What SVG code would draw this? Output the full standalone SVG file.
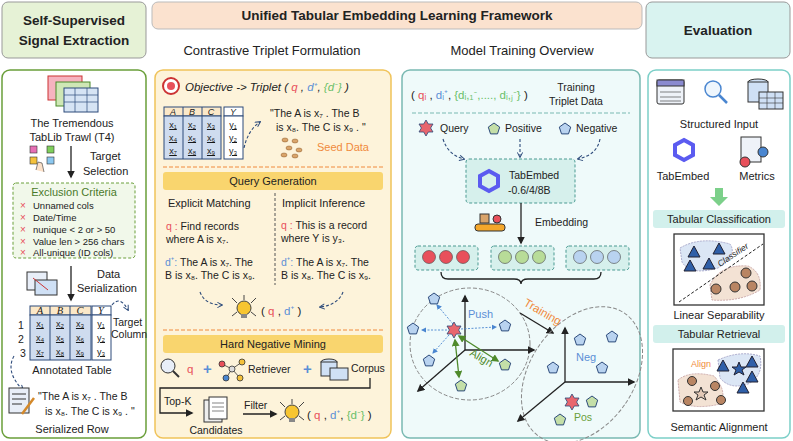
<svg xmlns="http://www.w3.org/2000/svg" xmlns:xlink="http://www.w3.org/1999/xlink" width="793" height="441" viewBox="0 0 793 441">
<style>
text{font-family:"Liberation Sans",Lato,sans-serif;fill:#222;font-size:10.5px}
.h{font-weight:bold;font-size:13.5px}
.c{text-anchor:middle}
.sub{font-size:13px}
.red{fill:#e8505b}.blue{fill:#5b8fd6}.grn{fill:#6abf69}.org{fill:#f08a3c}
.ln{stroke:#222;stroke-width:1.3;fill:none}
.dash{stroke:#2c4a7a;stroke-width:1.1;fill:none;stroke-dasharray:3 2}
.tbl{fill:#cfdcef;stroke:#2c4a7a;stroke-width:1}
.pb{fill:#b9d3f0;stroke:#2c4a7a;stroke-width:1}
.pg{fill:#c4dfa8;stroke:#2c4a7a;stroke-width:1}
.st{fill:#e8666e;stroke:#2c4a7a;stroke-width:0.8}
.bar{fill:#f9d56e}
.cbar{fill:#d2f0ec}
.x{fill:#e8505b;font-size:10px}
</style>
<defs>
<marker id="ar" viewBox="0 0 10 10" refX="8" refY="5" markerWidth="6" markerHeight="6" orient="auto"><path d="M0,0 L10,5 L0,10 z" fill="#222"/></marker>
<marker id="ad" viewBox="0 0 10 10" refX="8" refY="5" markerWidth="6" markerHeight="6" orient="auto"><path d="M1,1 L9,5 L1,9" fill="none" stroke="#2c4a7a" stroke-width="1.5"/></marker>
<marker id="ab" viewBox="0 0 10 10" refX="8" refY="5" markerWidth="6" markerHeight="6" orient="auto"><path d="M0,0 L10,5 L0,10 z" fill="#4a86d0"/></marker>
<marker id="ag" viewBox="0 0 10 10" refX="8" refY="5" markerWidth="6" markerHeight="6" orient="auto-start-reverse"><path d="M0,0 L10,5 L0,10 z" fill="#4f8a2b"/></marker>
<path id="pent" d="M0,-6 L5.7,-1.9 L3.5,4.9 L-3.5,4.9 L-5.7,-1.9 z"/>
<path id="star" d="M0,-8 L2.3,-4 L7,-4 L4.6,0 L7,4 L2.3,4 L0,8 L-2.3,4 L-7,4 L-4.6,0 L-7,-4 L-2.3,-4 z"/>
<path id="tri" d="M0,-6 L6,5 L-6,5 z"/>
<g id="bulb"><circle cx="0" cy="0" r="7" fill="#f7c531" stroke="#444"/><rect x="-3" y="6" width="6" height="4" fill="#888"/><path d="M-12,-10 L-7,-5 M12,-10 L7,-5 M-12,8 L-7,4 M12,8 L7,4 M0,-13 L0,-8" stroke="#444"/></g>
</defs>

<g id="headers">
<rect x="2" y="2" width="144" height="56" rx="6" fill="#e6f2d6" stroke="#999"/>
<text class="h c" x="74" y="25">Self-Supervised</text>
<text class="h c" x="74" y="45">Signal Extraction</text>
<rect x="152" y="2" width="490" height="27" rx="6" fill="#fbe2cf" stroke="#bbb"/>
<text class="h c" x="397" y="20">Unified Tabular Embedding Learning Framework</text>
<text class="sub c" x="272" y="55">Contrastive Triplet Formulation</text>
<text class="sub c" x="522" y="55">Model Training Overview</text>
<rect x="646" y="2" width="144" height="56" rx="6" fill="#d9f3f0" stroke="#999"/>
<text class="h c" x="718" y="35">Evaluation</text>
</g>

<rect x="2" y="70" width="144" height="368" rx="8" fill="#fff" stroke="#6a9f3a" stroke-width="1.5"/>
<rect x="155" y="70" width="236" height="368" rx="8" fill="#fdf3da" stroke="#f0c35a" stroke-width="1.5"/>
<rect x="402" y="70" width="238" height="368" rx="8" fill="#effafa" stroke="#79b9b2" stroke-width="1.5"/>
<rect x="648" y="70" width="142" height="368" rx="8" fill="#fff" stroke="#7ccfc8" stroke-width="1.5"/>

<g id="col1">
<rect x="48" y="76" width="34" height="24" fill="#f6b3c0" stroke="#c33"/>
<rect x="56" y="82" width="34" height="24" fill="#cfe7b5" stroke="#4a8a2a"/>
<rect x="64" y="88" width="34" height="24" fill="#d6e4f4" stroke="#2c4a7a"/>
<path d="M64,95 H98 M64,102 H98 M75,88 V112 M87,88 V112" stroke="#2c4a7a" stroke-width="0.7"/>
<text class="c" x="72" y="127" style="font-size:11px">The Tremendous</text>
<text class="c" x="72" y="141" style="font-size:11px">TabLib Trawl (T4)</text>
<rect x="30" y="146" width="7" height="7" fill="#e66fb4" stroke="#333" stroke-width="0.6"/>
<rect x="47" y="146" width="7" height="7" fill="#7fcf5c" stroke="#333" stroke-width="0.6"/>
<rect x="30" y="157" width="7" height="7" fill="#f4c13b" stroke="#333" stroke-width="0.6"/>
<rect x="47" y="157" width="7" height="7" fill="#8cc8f0" stroke="#333" stroke-width="0.6"/>
<path d="M36,170 L38,162 L42,163 L44,172" fill="#fbe0c8" stroke="#333" stroke-width="0.6"/>
<line class="ln" x1="71" y1="146" x2="71" y2="177" marker-end="url(#ar)"/>
<text x="90" y="160" style="font-size:11px">Target</text>
<text x="83" y="175" style="font-size:11px">Selection</text>
<rect x="13" y="183" width="122" height="75" rx="3" fill="#f1f8ea" stroke="#6a9f3a" stroke-dasharray="3 2"/>
<text class="c" x="74" y="196" style="fill:#4a7a2a;font-size:11px">Exclusion Criteria</text>
<text x="20" y="209" class="x">×</text><text x="33" y="209" style="font-size:9.5px">Unnamed cols</text>
<text x="20" y="221" class="x">×</text><text x="33" y="221" style="font-size:9.5px">Date/Time</text>
<text x="20" y="233" class="x">×</text><text x="33" y="233" style="font-size:9.5px">nunique &lt; 2 or &gt; 50</text>
<text x="20" y="245" class="x">×</text><text x="33" y="245" style="font-size:9.5px">Value len &gt; 256 chars</text>
<text x="20" y="256" class="x">×</text><text x="33" y="256" style="font-size:9.5px">All-unique (ID cols)</text>
<rect x="27" y="272" width="20" height="18" fill="#e8eef8" stroke="#333"/>
<rect x="35" y="280" width="22" height="15" fill="#cfe0f5" stroke="#333"/>
<line x1="33" y1="278" x2="48" y2="290" stroke="#c33"/>
<line class="ln" x1="71" y1="266" x2="71" y2="300" marker-end="url(#ar)"/>
<text x="97" y="278" style="font-size:11px">Data</text>
<text x="77" y="292" style="font-size:11px">Serialization</text>
<rect x="30" y="306" width="61" height="9" fill="#fbe8c8" stroke="#2c4a7a"/>
<rect x="30" y="315" width="61" height="45" class="tbl"/>
<rect x="92" y="306" width="19" height="9" fill="#fff" stroke="#2c4a7a"/>
<rect x="92" y="315" width="19" height="45" fill="#fff" stroke="#2c4a7a"/>
<path d="M50,306 V360 M70,306 V360" stroke="#2c4a7a"/>
<g style="font-size:9px">
<text class="c" x="40" y="314" style="font-family:'Liberation Serif';font-style:italic">A</text><text class="c" x="60" y="314" style="font-family:'Liberation Serif';font-style:italic">B</text><text class="c" x="80" y="314" style="font-family:'Liberation Serif';font-style:italic">C</text><text class="c" x="101" y="314" style="font-family:'Liberation Serif';font-style:italic">Y</text>
</g>
<g text-decoration="underline">
<text class="c" x="40" y="327" style="font-size:9px">x₁</text><text class="c" x="60" y="327" style="font-size:9px">x₂</text><text class="c" x="80" y="327" style="font-size:9px">x₃</text><text class="c" x="101" y="327" style="font-size:9px">y₁</text>
<text class="c" x="40" y="341" style="font-size:9px">x₄</text><text class="c" x="60" y="341" style="font-size:9px">x₅</text><text class="c" x="80" y="341" style="font-size:9px">x₆</text><text class="c" x="101" y="341" style="font-size:9px">y₂</text>
<text class="c" x="40" y="355" style="font-size:9px">x₇</text><text class="c" x="60" y="355" style="font-size:9px">x₈</text><text class="c" x="80" y="355" style="font-size:9px">x₉</text><text class="c" x="101" y="355" style="font-size:9px">y₃</text>
</g>
<text x="18" y="329">1</text><text x="18" y="343">2</text><text x="20" y="357">3</text>
<text x="113" y="326">Target</text><text x="111" y="338">Column</text>
<path class="dash" d="M112,305 Q120,295 128,310" marker-end="url(#ad)"/>
<text class="c" x="72" y="374" style="font-size:11px">Annotated Table</text>
<path class="dash" d="M14,356 Q5,372 23,390" marker-end="url(#ad)"/>
<rect x="9" y="388" width="20" height="25" fill="#e8eef8" stroke="#333"/>
<path d="M12,394 H26 M12,399 H26 M12,404 H22" stroke="#333"/>
<line x1="22" y1="414" x2="34" y2="398" stroke="#d4892a" stroke-width="2.5"/>
<text x="38" y="400">"The A is x₇ . The B</text>
<text x="45" y="415">is x₈. The C is x₉ . "</text>
<text class="c" x="72" y="433" style="font-size:11px">Serialized Row</text>
</g>

<g id="col2">
<circle cx="171" cy="86" r="8" fill="#fff" stroke="#c33" stroke-width="2"/><circle cx="171" cy="86" r="4" fill="#e8505b"/>
<text x="185" y="91" style="font-style:italic;font-size:11.5px">Objective -&gt; Triplet ( <tspan class="red">q</tspan> , <tspan class="blue">d⁺</tspan>, <tspan class="grn">{d⁻}</tspan> )</text>
<rect x="164" y="107" width="57" height="9" fill="#fbe8c8" stroke="#2c4a7a"/>
<rect x="164" y="116" width="57" height="43" class="tbl"/>
<rect x="224" y="107" width="19" height="9" fill="#fff" stroke="#2c4a7a"/>
<rect x="224" y="116" width="19" height="43" fill="#fff" stroke="#2c4a7a"/>
<path d="M183,107 V159 M202,107 V159" stroke="#2c4a7a"/>
<text class="c" x="173" y="115" style="font-style:italic;font-size:9px">A</text><text class="c" x="192" y="115" style="font-style:italic;font-size:9px">B</text><text class="c" x="211" y="115" style="font-style:italic;font-size:9px">C</text><text class="c" x="233" y="115" style="font-style:italic;font-size:9px">Y</text>
<g text-decoration="underline">
<text class="c" x="173" y="128" style="font-size:9px">x₁</text><text class="c" x="192" y="128" style="font-size:9px">x₂</text><text class="c" x="211" y="128" style="font-size:9px">x₃</text><text class="c" x="233" y="128" style="font-size:9px">y₁</text>
<text class="c" x="173" y="141" style="font-size:9px">x₄</text><text class="c" x="192" y="141" style="font-size:9px">x₅</text><text class="c" x="211" y="141" style="font-size:9px">x₆</text><text class="c" x="233" y="141" style="font-size:9px">y₂</text>
<text class="c" x="173" y="154" style="font-size:9px">x₇</text><text class="c" x="192" y="154" style="font-size:9px">x₈</text><text class="c" x="211" y="154" style="font-size:9px">x₉</text><text class="c" x="233" y="154" style="font-size:9px">y₃</text>
</g>
<path class="dash" d="M244,148 Q248,130 260,122" marker-end="url(#ad)"/>
<text x="270" y="117">"The A is x₇ . The B</text>
<text x="276" y="131">is x₈. The C is x₉ .  "</text>
<g fill="#d9a46a" stroke="#8a5a2a" stroke-width="0.5"><ellipse cx="285" cy="140" rx="3" ry="2"/><ellipse cx="295" cy="141" rx="3" ry="2"/><ellipse cx="289" cy="148" rx="3" ry="2"/><ellipse cx="299" cy="150" rx="3" ry="2"/><ellipse cx="284" cy="155" rx="3" ry="2"/><ellipse cx="295" cy="156" rx="3" ry="2"/></g>
<text x="317" y="151" class="org" style="font-size:11px">Seed Data</text>
<line x1="163" y1="167" x2="383" y2="167" stroke="#f08a3c" stroke-dasharray="4 2"/>
<rect x="163" y="172" width="220" height="18" rx="3" class="bar"/>
<text class="c" x="273" y="185" style="font-size:11px">Query Generation</text>
<text x="168" y="207" style="font-size:11px">Explicit Matching</text>
<text x="282" y="207" style="font-size:11px">Implicit Inference</text>
<line x1="275" y1="193" x2="275" y2="285" stroke="#555" stroke-dasharray="3 2"/>
<text x="166" y="230"><tspan class="red">q  :</tspan>  Find records</text>
<text x="166" y="243">where A is x₇.</text>
<text x="281" y="229"><tspan class="red">q  :</tspan>  This is a record</text>
<text x="281" y="242">where Y is y₃.</text>
<text x="165" y="266"><tspan class="blue">d⁺:</tspan> The A is x₇. The</text>
<text x="165" y="279">B is x₈. The C is x₉.</text>
<text x="281" y="266"><tspan class="blue">d⁺:</tspan> The A is x₇. The</text>
<text x="281" y="279">B is x₈. The C is x₉.</text>
<path class="dash" d="M200,292 Q205,305 222,305" marker-end="url(#ad)"/>
<path class="dash" d="M343,292 Q338,305 320,307" marker-end="url(#ad)"/>
<use href="#bulb" x="244" y="308"/>
<text x="261" y="315" style="font-size:11.5px">( <tspan class="red">q</tspan> , <tspan class="blue">d⁺</tspan> )</text>
<line x1="163" y1="330" x2="383" y2="330" stroke="#f08a3c" stroke-dasharray="4 2"/>
<rect x="163" y="335" width="220" height="18" rx="3" class="bar"/>
<text class="c" x="273" y="348" style="font-size:11px">Hard Negative Mining</text>
<circle cx="168" cy="366" r="7" fill="#e8eef8" stroke="#333"/><line x1="173" y1="371" x2="179" y2="377" stroke="#333" stroke-width="2"/>
<text x="187" y="373" class="red" style="font-size:11.5px">q</text>
<text x="203" y="374" style="fill:#5b8fd6;font-size:15px;font-weight:bold">+</text>
<g stroke="#333" stroke-width="0.8"><path d="M222,364 L232,369 L242,362 M232,369 L226,378 M232,369 L240,378" fill="none"/><circle cx="222" cy="364" r="3" fill="#e8505b"/><circle cx="242" cy="362" r="3" fill="#f4c13b"/><circle cx="226" cy="378" r="3" fill="#4a86d0"/><circle cx="240" cy="378" r="3" fill="#f4c13b"/><circle cx="232" cy="369" r="3" fill="#ddd"/></g>
<text x="248" y="373">Retriever</text>
<text x="303" y="374" style="fill:#5b8fd6;font-size:15px;font-weight:bold">+</text>
<ellipse cx="329" cy="362" rx="8" ry="3" fill="#cfe0f5" stroke="#333"/>
<rect x="321" y="362" width="16" height="14" fill="#cfe0f5" stroke="#333"/>
<rect x="330" y="368" width="18" height="12" fill="#cfe0f5" stroke="#333"/>
<text x="351" y="372">Corpus</text>
<path class="ln" d="M370,378 V388 H160 V413 H192" marker-end="url(#ar)"/>
<text x="164" y="405">Top-K</text>
<rect x="204" y="400" width="18" height="22" fill="#eee" stroke="#333"/>
<rect x="209" y="397" width="18" height="22" fill="#fff" stroke="#333"/>
<path d="M212,403 H224 M212,407 H224 M212,411 H224" stroke="#333" stroke-width="0.6"/>
<text class="c" x="216" y="434">Candidates</text>
<text x="244" y="409">Filter</text>
<line class="ln" x1="243" y1="414" x2="276" y2="414" marker-end="url(#ar)"/>
<use href="#bulb" x="292" y="412"/>
<text x="307" y="419" style="font-size:11.5px">( <tspan class="red">q</tspan> , <tspan class="blue">d⁺</tspan>, <tspan class="grn">{d⁻}</tspan> )</text>
</g>

<g id="col3">
<text x="411" y="99" style="font-size:11.5px">( <tspan class="red">qᵢ</tspan> , <tspan class="blue">dᵢ⁺</tspan>, <tspan class="grn">{dᵢ,₁⁻,...., dᵢ,ⱼ⁻}</tspan> )</text>
<text class="c" x="576" y="91">Training</text>
<text class="c" x="576" y="105">Triplet Data</text>
<line x1="412" y1="113" x2="630" y2="113" stroke="#79b9b2" stroke-dasharray="4 2"/>
<use href="#star" x="426" y="128" class="st"/>
<text x="440" y="132">Query</text>
<use href="#pent" x="494" y="129" class="pg"/>
<text x="505" y="132">Positive</text>
<use href="#pent" x="565" y="129" class="pb"/>
<text x="576" y="132">Negative</text>
<path class="dash" d="M443,139 Q448,155 464,159" marker-end="url(#ad)"/>
<path class="dash" d="M520,139 V157" marker-end="url(#ad)"/>
<path class="dash" d="M600,139 Q597,155 578,159" marker-end="url(#ad)"/>
<rect x="466" y="159" width="109" height="44" rx="3" fill="#d6f0ec" stroke="#4a9a92" stroke-dasharray="3 2"/>
<path d="M489,171 L498,176 L498,186 L489,191 L480,186 L480,176 z" fill="none" stroke="#5b5bf0" stroke-width="4"/>
<text x="509" y="179">TabEmbed</text>
<text x="508" y="194">-0.6/4/8B</text>
<line class="ln" x1="521" y1="203" x2="521" y2="243" marker-end="url(#ar)"/>
<rect x="475" y="224" width="30" height="7" rx="3" fill="#f4a72b" stroke="#333"/>
<rect x="480" y="214" width="9" height="9" fill="#d9a46a" stroke="#333"/>
<circle cx="497" cy="219" r="4" fill="#e8505b" stroke="#333"/>
<text x="535" y="226">Embedding</text>
<rect x="415" y="246" width="63" height="24" rx="3" fill="#d6f0ec" stroke="#4a9a92" stroke-dasharray="3 2"/>
<rect x="491" y="246" width="63" height="24" rx="3" fill="#d6f0ec" stroke="#4a9a92" stroke-dasharray="3 2"/>
<rect x="566" y="246" width="63" height="24" rx="3" fill="#d6f0ec" stroke="#4a9a92" stroke-dasharray="3 2"/>
<g stroke="#444" stroke-width="0.6">
<circle cx="429" cy="257" r="6.5" fill="#e8505b"/><circle cx="446" cy="257" r="6.5" fill="#e8505b"/><circle cx="463" cy="257" r="6.5" fill="#e8505b"/>
<circle cx="505" cy="257" r="6.5" fill="#b8dc98"/><circle cx="522" cy="257" r="6.5" fill="#b8dc98"/><circle cx="539" cy="257" r="6.5" fill="#b8dc98"/>
<circle cx="580" cy="257" r="6.5" fill="#b9d3f0"/><circle cx="597" cy="257" r="6.5" fill="#b9d3f0"/><circle cx="614" cy="257" r="6.5" fill="#b9d3f0"/>
</g>
<path class="ln" d="M441,272 Q441,279 448,279 H514 Q521,279 521,284 Q521,279 528,279 H594 Q601,279 601,272"/>
<ellipse cx="470" cy="344" rx="60" ry="56" fill="none" stroke="#888" stroke-dasharray="4 2"/>
<line class="ln" x1="465" y1="350" x2="465" y2="296" marker-end="url(#ar)"/>
<line class="ln" x1="465" y1="350" x2="534" y2="350" marker-end="url(#ar)"/>
<line class="ln" x1="465" y1="350" x2="418" y2="391" marker-end="url(#ar)"/>
<g stroke="#4a86d0" stroke-dasharray="2 1.5" stroke-width="0.9" marker-end="url(#ab)">
<line x1="453" y1="324" x2="437" y2="305"/><line x1="447" y1="330" x2="422" y2="330"/><line x1="461" y1="329" x2="496" y2="327"/><line x1="449" y1="335" x2="433" y2="353"/>
</g>
<g stroke="#4f8a2b" stroke-width="1.3" marker-end="url(#ag)" marker-start="url(#ag)">
<line x1="459" y1="336" x2="498" y2="361"/><line x1="455" y1="340" x2="459" y2="377"/>
</g>
<use href="#star" x="454" y="330" class="st"/>
<use href="#pent" x="434" y="299" class="pb"/><use href="#pent" x="413" y="329" class="pb"/><use href="#pent" x="505" y="326" class="pb"/><use href="#pent" x="429" y="361" class="pb"/>
<use href="#pent" x="505" y="365" class="pg"/><use href="#pent" x="461" y="386" class="pg"/>
<text x="468" y="318" class="blue" style="font-size:11px">Push</text>
<text x="469" y="355" style="fill:#4f8a2b;font-size:11px" transform="rotate(30 469 355)">Align</text>
<text x="523" y="305" class="org" style="font-size:11.5px" transform="rotate(30 523 305)">Training</text>
<line class="ln" x1="520" y1="313" x2="553" y2="333" marker-end="url(#ar)"/>
<ellipse cx="582" cy="375" rx="52" ry="75" transform="rotate(35 582 375)" fill="none" stroke="#888" stroke-dasharray="4 2"/>
<line class="ln" x1="565" y1="382" x2="565" y2="328" marker-end="url(#ar)"/>
<line class="ln" x1="565" y1="382" x2="634" y2="382" marker-end="url(#ar)"/>
<line class="ln" x1="565" y1="382" x2="518" y2="421" marker-end="url(#ar)"/>
<use href="#pent" x="580" y="340" class="pb"/><use href="#pent" x="612" y="337" class="pb"/><use href="#pent" x="553" y="368" class="pb"/><use href="#pent" x="602" y="368" class="pb"/>
<text x="576" y="361" class="blue" style="font-size:11px">Neg</text>
<use href="#star" x="572" y="402" class="st"/><use href="#pent" x="592" y="402" class="pg"/><use href="#pent" x="560" y="420" class="pg"/>
<text x="574" y="421" style="fill:#6a9f3a;font-size:10.5px">Pos</text>
</g>

<g id="col4">
<rect x="657" y="80" width="27" height="24" rx="2" fill="#eef2f8" stroke="#333"/>
<rect x="657" y="80" width="27" height="6" fill="#8a8ad0" stroke="#333"/>
<path d="M660,92 H681 M660,97 H681 M660,101 H681" stroke="#333" stroke-width="0.6"/>
<circle cx="713" cy="89" r="8" fill="#eef6fd" stroke="#4a86d0" stroke-width="1.5"/>
<line x1="719" y1="95" x2="727" y2="103" stroke="#4a86d0" stroke-width="2.5"/>
<ellipse cx="758" cy="82" rx="10" ry="3" fill="#cfe0f5" stroke="#333"/>
<rect x="748" y="82" width="20" height="20" fill="#cfe0f5" stroke="#333"/>
<rect x="759" y="92" width="24" height="17" fill="#cfe0f5" stroke="#333"/>
<path d="M759,98 H783 M759,103 H783 M767,92 V109 M775,92 V109" stroke="#333" stroke-width="0.6"/>
<text class="c" x="719" y="128" style="font-size:11px">Structured Input</text>
<path d="M684,140 L693,145 L693,155 L684,160 L675,155 L675,145 z" fill="none" stroke="#5b5bf0" stroke-width="4"/>
<rect x="741" y="137" width="20" height="25" fill="#eef2f8" stroke="#333"/>
<circle cx="745" cy="162" r="5" fill="#e8505b" stroke="#333"/>
<circle cx="763" cy="152" r="5" fill="#4a86d0" stroke="#333"/>
<text class="c" x="683" y="180" style="font-size:11px">TabEmbed</text>
<text class="c" x="757" y="180" style="font-size:11px">Metrics</text>
<path d="M715,188 H723 V197 H728 L719,206 L710,197 H715 z" fill="#7cd08a"/>
<rect x="653" y="210" width="132" height="18" rx="3" class="cbar"/>
<text class="c" x="719" y="223" style="font-size:11px">Tabular Classification</text>
<rect x="674" y="234" width="90" height="71" fill="#fff" stroke="#333" stroke-width="1.3"/>
<path d="M680,248 Q700,236 730,244 Q738,256 718,268 Q690,276 682,262 z" fill="#dbe6f5" stroke="#aac" stroke-dasharray="2 1"/>
<path d="M710,285 Q720,264 748,266 Q762,272 760,290 Q740,302 712,300 z" fill="#f3e2d4" stroke="#caa" stroke-dasharray="2 1"/>
<line x1="679" y1="302" x2="763" y2="244" stroke="#222" stroke-dasharray="3 2"/>
<text x="720" y="267" style="font-size:8.5px;font-style:italic" transform="rotate(-34 720 267)">Classifier</text>
<g fill="#2f5fa8" stroke="#223"><use href="#tri" x="694" y="252"/><use href="#tri" x="719" y="249"/><use href="#tri" x="690" y="266"/><use href="#tri" x="709" y="264"/></g>
<g fill="#b98563" stroke="#333"><circle cx="746" cy="273" r="5"/><circle cx="716" cy="289" r="5"/><circle cx="735" cy="287" r="5"/><circle cx="752" cy="286" r="5"/></g>
<text class="c" x="719" y="319" style="font-size:11px">Linear Separability</text>
<rect x="653" y="325" width="132" height="18" rx="3" class="cbar"/>
<text class="c" x="719" y="338" style="font-size:11px">Tabular Retrieval</text>
<rect x="673" y="349" width="91" height="62" fill="#fff" stroke="#333" stroke-width="1.3"/>
<path d="M718,360 Q740,350 760,356 Q764,376 748,384 Q730,390 720,378 z" fill="#dbe6f5" stroke="#aac" stroke-dasharray="2 1"/>
<path d="M678,380 Q690,370 714,376 Q728,392 720,404 Q695,410 680,402 z" fill="#f3e2d4" stroke="#caa" stroke-dasharray="2 1"/>
<text x="691" y="367" class="org" style="font-size:9px">Align</text>
<g fill="#2f5fa8" stroke="#223"><use href="#tri" x="723" y="366"/><use href="#tri" x="752" y="362"/><use href="#tri" x="752" y="377"/><use href="#tri" x="743" y="388"/></g>
<path d="M739,362 L741,367 L746,367 L742,370 L744,375 L739,372 L734,375 L736,370 L732,367 L737,367 z" fill="#2f5fa8" stroke="#223"/>
<g fill="#b98563" stroke="#333"><circle cx="692" cy="381" r="4.5"/><circle cx="715" cy="386" r="4.5"/><circle cx="688" cy="401" r="4.5"/><circle cx="721" cy="400" r="4.5"/></g>
<path d="M701,387 L703,392 L708,392 L704,395 L706,400 L701,397 L696,400 L698,395 L694,392 L699,392 z" fill="#e2c8b6" stroke="#333"/>
<text class="c" x="719" y="431" style="font-size:11px">Semantic Alignment</text>
</g>
</svg>
